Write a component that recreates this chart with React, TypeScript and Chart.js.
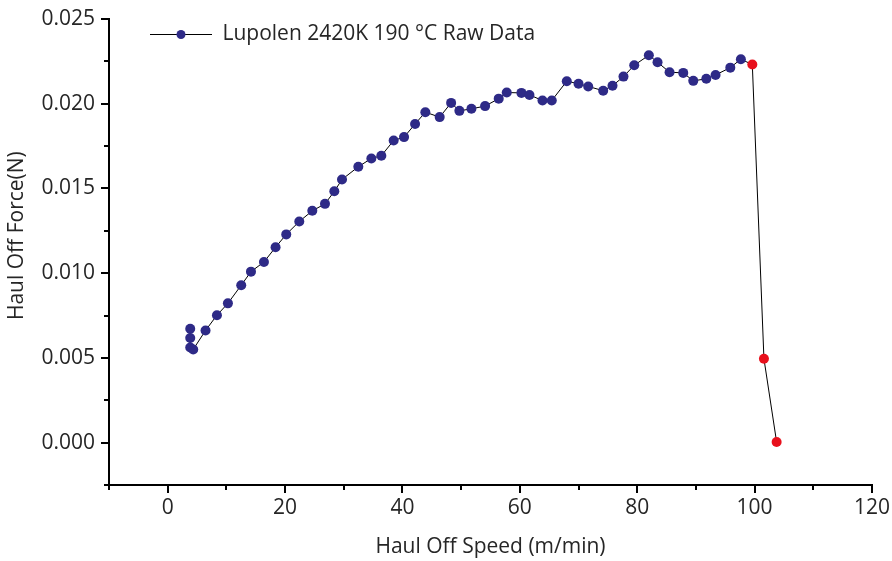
import React, { useEffect, useRef } from "react";
import { Chart, registerables } from "chart.js";

Chart.register(...registerables);

const seriesLabel = "Lupolen 2420K 190 °C Raw Data";
const xTitle = "Haul Off Speed (m/min)";
const yTitle = "Haul Off Force(N)";

const speed = [
  3.84, 3.84, 3.84, 4.35, 6.45, 8.39, 10.26, 12.53, 14.19, 16.4, 18.38, 20.2,
  22.42, 24.64, 26.8, 28.39, 29.7, 32.48, 34.7, 36.4, 38.5, 40.27, 42.15, 43.9,
  46.34, 48.29, 49.7, 51.75, 54.08, 56.4, 57.77, 60.27, 61.64, 63.86, 65.44,
  68.0, 70.0, 71.65, 74.2, 75.79, 77.66, 79.49, 81.98, 83.46, 85.51, 87.84,
  89.55, 91.77, 93.35, 95.86, 97.66, 99.61, 101.59, 103.75,
];

const force = [
  0.00672, 0.00617, 0.00561, 0.0055, 0.00662, 0.00752, 0.00822, 0.00929,
  0.01009, 0.01066, 0.01153, 0.01229, 0.01305, 0.01368, 0.01409, 0.01483,
  0.01553, 0.01628, 0.01677, 0.01693, 0.01783, 0.01803, 0.0188, 0.0195,
  0.01921, 0.02005, 0.01958, 0.0197, 0.01986, 0.0203, 0.02066, 0.02064,
  0.02052, 0.02019, 0.02019, 0.02133, 0.02118, 0.02102, 0.02077, 0.02106,
  0.0216, 0.02227, 0.02286, 0.02245, 0.02186, 0.02182, 0.02135, 0.02147,
  0.0217, 0.02213, 0.02263, 0.02231, 0.00495, 0.000035,
];

// points from this index onward are the break-off points (drawn in red)
const firstBreakIndex = 51;

const xRange = [-10, 120];
const yRange = [-0.0025, 0.025];
const xMajorTicks = [0, 20, 40, 60, 80, 100, 120];
const xMinorTicks = [-10, 10, 30, 50, 70, 90, 110];
const yMajorTicks = [0, 0.005, 0.01, 0.015, 0.02, 0.025];
const yMinorTicks = [-0.0025, 0.0025, 0.0075, 0.0125, 0.0175, 0.0225];

const FONT = "'Open Sans', 'Noto Sans', sans-serif";
const FONT_SIZE = 21;
const TEXT = "#262626";
const NAVY = "#2e2a87";
const RED = "#e8101c";

function makeLegendIcon(): HTMLCanvasElement {
  const c = document.createElement("canvas");
  c.width = 62;
  c.height = 12;
  const g = c.getContext("2d")!;
  g.strokeStyle = "#000";
  g.lineWidth = 1;
  g.beginPath();
  g.moveTo(0, 6.5);
  g.lineTo(62, 6.5);
  g.stroke();
  g.fillStyle = NAVY;
  g.beginPath();
  g.arc(31, 6.5, 4.5, 0, Math.PI * 2);
  g.fill();
  return c;
}

// place the legend box inside the plot area, near its top-left corner
const legendOffset = {
  id: "legendOffset",
  afterLayout(chart: any) {
    const l = chart.legend;
    const ca = chart.chartArea;
    if (!l || !ca) return;
    const w = l.width;
    const h = l.height;
    l.left = ca.left + 41;
    l.top = ca.top + 4.5;
    l.right = l.left + w;
    l.bottom = l.top + h;
  },
};

export default function App() {
  const ref = useRef<HTMLCanvasElement | null>(null);

  useEffect(() => {
    if (!ref.current) return;
    const icon = makeLegendIcon();
    const points = speed.map((x, i) => ({ x, y: force[i] }));
    const font = { family: FONT, size: FONT_SIZE };

    const chart = new Chart(ref.current, {
      type: "scatter",
      data: {
        datasets: [
          {
            label: seriesLabel,
            data: points,
            showLine: true,
            borderColor: "#000",
            borderWidth: 1,
            tension: 0,
            pointRadius: 5,
            pointHoverRadius: 5,
            pointBorderWidth: 0,
            pointBackgroundColor: (ctx: any) =>
              ctx.dataIndex >= firstBreakIndex ? RED : NAVY,
            xAxisID: "x",
            yAxisID: "y",
          },
        ],
      },
      options: {
        responsive: false,
        animation: false,
        layout: { padding: { top: 19, right: 20, left: 0, bottom: 0 } },
        plugins: {
          tooltip: { enabled: false },
          legend: {
            position: "chartArea",
            align: "start",
            labels: {
              usePointStyle: true,
              pointStyleWidth: 62,
              boxHeight: 12,
              padding: 0,
              color: TEXT,
              font,
              generateLabels: (c: any) => {
                const items = (Chart.defaults.plugins.legend.labels as any).generateLabels(c);
                items.forEach((it: any) => {
                  it.pointStyle = icon;
                });
                return items;
              },
            },
          },
        },
        scales: {
          x: {
            type: "linear",
            position: "bottom",
            weight: 1,
            min: xRange[0],
            max: xRange[1],
            afterBuildTicks: (s: any) => {
              s.ticks = xMajorTicks.map((v) => ({ value: v }));
            },
            afterFit: (s: any) => {
              s.height = 76;
            },
            ticks: {
              color: TEXT,
              font,
              padding: 2,
              maxRotation: 0,
              autoSkip: false,
              callback: (v: any) => String(v),
            },
            grid: {
              display: true,
              drawOnChartArea: false,
              drawTicks: true,
              tickLength: 8,
              color: "#000",
              lineWidth: 2,
            },
            border: { display: true, color: "#000", width: 2 },
            title: {
              display: true,
              text: xTitle,
              color: TEXT,
              font,
              padding: { top: 0, bottom: 1 },
            },
          },
          xMinor: {
            type: "linear",
            position: "bottom",
            weight: 0,
            min: xRange[0],
            max: xRange[1],
            afterBuildTicks: (s: any) => {
              s.ticks = xMinorTicks.map((v) => ({ value: v }));
            },
            afterFit: (s: any) => {
              s.height = 0;
            },
            ticks: { display: false },
            grid: {
              display: true,
              drawOnChartArea: false,
              drawTicks: true,
              tickLength: 5,
              color: "#000",
              lineWidth: 2,
            },
            border: { display: false },
          },
          y: {
            type: "linear",
            position: "left",
            weight: 1,
            min: yRange[0],
            max: yRange[1],
            afterBuildTicks: (s: any) => {
              s.ticks = yMajorTicks.map((v) => ({ value: v }));
            },
            afterFit: (s: any) => {
              s.width = 109;
            },
            ticks: {
              color: TEXT,
              font,
              padding: 6,
              autoSkip: false,
              callback: (v: any) => Number(v).toFixed(3),
            },
            grid: {
              display: true,
              drawOnChartArea: false,
              drawTicks: true,
              tickLength: 8,
              color: "#000",
              lineWidth: 2,
            },
            border: { display: true, color: "#000", width: 2 },
            title: {
              display: true,
              text: "      " + yTitle,
              color: TEXT,
              font,
              padding: { top: 4, bottom: 0 },
            },
          },
          yMinor: {
            type: "linear",
            position: "left",
            weight: 0,
            min: yRange[0],
            max: yRange[1],
            afterBuildTicks: (s: any) => {
              s.ticks = yMinorTicks.map((v) => ({ value: v }));
            },
            afterFit: (s: any) => {
              s.width = 0;
            },
            ticks: { display: false },
            grid: {
              display: true,
              drawOnChartArea: false,
              drawTicks: true,
              tickLength: 5,
              color: "#000",
              lineWidth: 2,
            },
            border: { display: false },
          },
        },
      } as any,
      plugins: [legendOffset],
    });

    return () => chart.destroy();
  }, []);

  return (
    <div style={{ position: "absolute", left: 0, top: 0, width: 892, height: 561, background: "#fff" }}>
      <canvas ref={ref} width={892} height={561} style={{ display: "block" }} />
    </div>
  );
}
